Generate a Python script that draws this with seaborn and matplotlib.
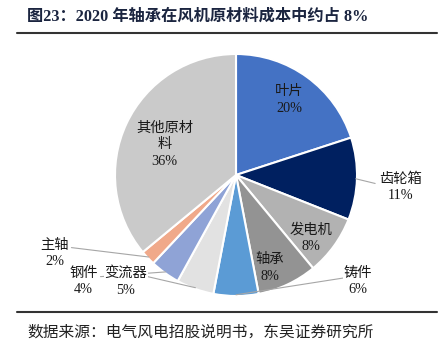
import numpy as np
import matplotlib
matplotlib.use("Agg")
import matplotlib.pyplot as plt
import seaborn as sns

categories = ['叶片', '齿轮箱', '发电机', '轴承', '铸件', '变流器', '钢件', '主轴', '其他原材料']
shares = [20, 11, 8, 8, 6, 5, 4, 2, 36]
colors = ['#4472C4', '#002060', '#B2B2B2', '#939393', '#5B9BD5',
          '#E2E2E2', '#8FA3D6', '#F0A98A', '#CACACA']

# label block centres, in pie-radius units
label_pos = {
    '叶片': (0.44, 0.62),
    '齿轮箱': (1.36, -0.10),
    '发电机': (0.62, -0.52),
    '轴承': (0.28, -0.77),
    '铸件': (1.01, -0.88),
    '变流器': (-0.91, -0.88),
    '钢件': (-1.26, -0.88),
    '主轴': (-1.50, -0.65),
    '其他原材料': (-0.59, 0.25),
}
# leader line end points for the labels that sit outside the pie
leader_end = {
    '齿轮箱': (1.15, -0.07),
    '铸件': (0.96, -0.84),
    '变流器': (-0.73, -0.84),
    '钢件': (-1.12, -0.84),
    '主轴': (-1.36, -0.60),
}
wrap = {'其他原材料': '其他原材\n料'}

sns.set_style("white")
plt.rcParams['font.family'] = ['Liberation Serif', 'Noto Sans CJK SC', 'DejaVu Sans']
lab_font = ['Liberation Serif', 'Noto Sans CJK SC']

fig = plt.figure(figsize=(4.48, 3.6), dpi=100)
ax = fig.add_axes([0, 0, 1, 1])

wedges, _ = ax.pie(shares, colors=colors, startangle=90, counterclock=False,
                   radius=1, center=(0, 0),
                   wedgeprops=dict(edgecolor='white', linewidth=1.5))

ax.set_xlim(-236 / 121, (448 - 236) / 121)
ax.set_ylim(-(360 - 175) / 121, 175 / 121)
ax.set_aspect('equal')
ax.axis('off')

for w, name, v in zip(wedges, categories, shares):
    txt = wrap.get(name, name) + '\n' + str(v) + '%'
    x, y = label_pos[name]
    if name in leader_end:
        mid = np.deg2rad((w.theta1 + w.theta2) / 2)
        ex, ey = leader_end[name]
        ax.plot([np.cos(mid) * 0.99, ex], [np.sin(mid) * 0.99, ey],
                color='#A6A6A6', lw=0.8, zorder=1)
        box = dict(facecolor='white', edgecolor='none', pad=0.5)
    else:
        box = None
    ax.text(x, y, txt, ha='center', va='center', fontsize=10.3,
            family=lab_font, color='#1A1A1A', linespacing=1.35, zorder=5,
            bbox=box)

fig.text(27 / 448, 1 - 17 / 360, '图23：2020 年轴承在风机原材料成本中约占 8%',
         fontsize=11.7, fontweight='bold', va='center', family=lab_font,
         color='#1B2540')
fig.add_artist(plt.Line2D([17 / 448, 437 / 448], [1 - 33 / 360] * 2,
                          color='#333333', lw=1.5))
fig.add_artist(plt.Line2D([17 / 448, 437 / 448], [1 - 312 / 360] * 2,
                          color='#333333', lw=1.5))
fig.text(27 / 448, 1 - 333 / 360, '数据来源：电气风电招股说明书，东吴证券研究所',
         fontsize=11.3, va='center', family=lab_font, color='#222222')

fig.savefig('out.png', dpi=100)
